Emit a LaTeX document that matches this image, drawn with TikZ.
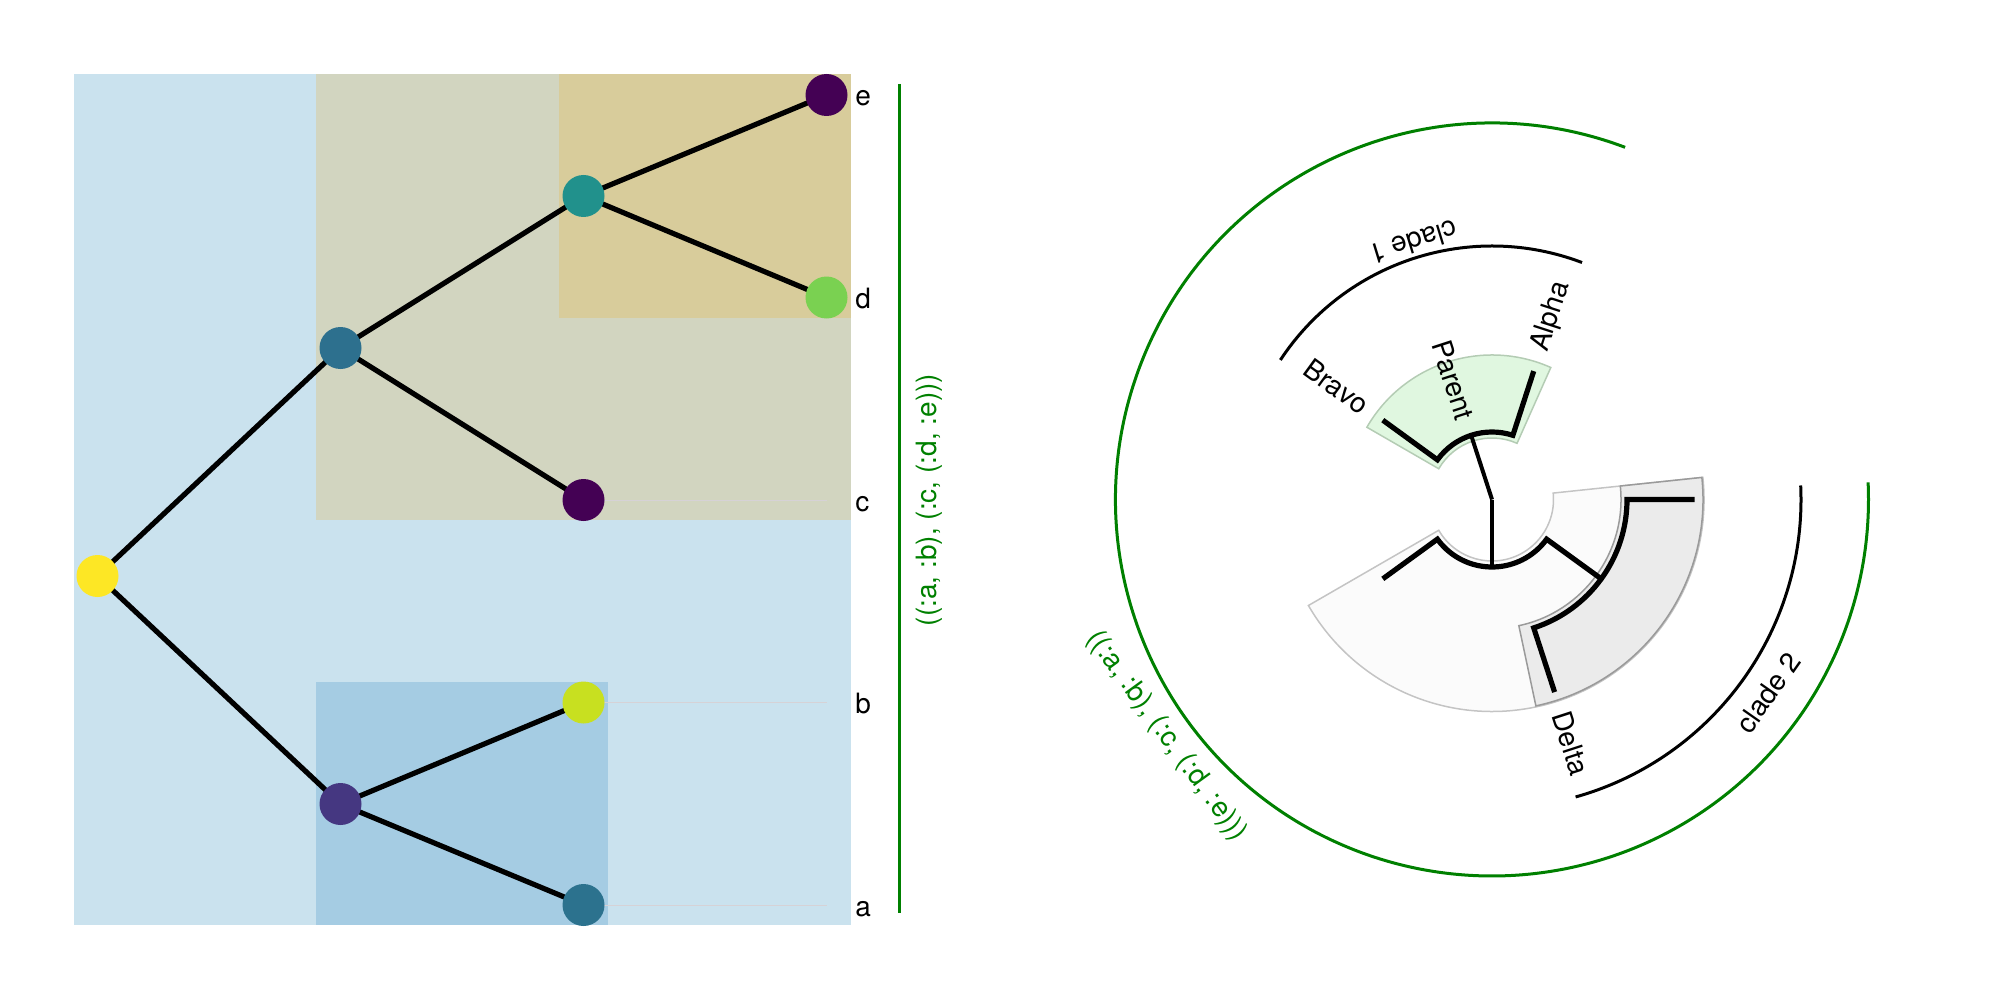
\documentclass[tikz,border=0pt]{standalone}
\usepackage{fontspec}
\setmainfont{TeX Gyre Heros}
\pgfdeclarelayer{bg}
\pgfdeclarelayer{edges}
\pgfsetlayers{bg,edges,main}
\definecolor{bgblue}{HTML}{CAE2EE}
\definecolor{tanA}{HTML}{D2D5C0}
\definecolor{tanB}{HTML}{D8CC9B}
\definecolor{blueB}{HTML}{A5CCE3}
\definecolor{cRoot}{HTML}{FDE725}
\definecolor{cN1}{HTML}{2D708E}
\definecolor{cN2}{HTML}{21918C}
\definecolor{cE}{HTML}{440154}
\definecolor{cD}{HTML}{7AD151}
\definecolor{cC}{HTML}{440154}
\definecolor{cN3}{HTML}{453781}
\definecolor{cB}{HTML}{C8E020}
\definecolor{cA}{HTML}{2C728E}
\definecolor{gr}{HTML}{008000}
\definecolor{wGreen}{HTML}{E0F7E0}
\definecolor{wGreenB}{HTML}{B4CCB4}
\definecolor{wLight}{HTML}{FBFBFB}
\definecolor{wLightB}{HTML}{C4C4C4}
\definecolor{wDark}{HTML}{EBEBEB}
\definecolor{wDarkB}{HTML}{9A9A9A}
\definecolor{leadc}{HTML}{D6D2D6}
\begin{document}
\begin{tikzpicture}[x=0.5pt,y=0.5pt,
  vnode/.style={circle,minimum size=21pt,inner sep=0pt,draw=none},
  treeedge/.style={line width=2.6pt,black},
  leader/.style={line width=0.5pt,leadc},
  lbl/.style={font=\fontsize{14pt}{17pt}\selectfont,inner sep=0pt},
  greenline/.style={line width=1.5pt,gr},
  rtstem/.style={line width=2pt,black},
  rtedge/.style={line width=2.6pt,black},
  cladearc/.style={line width=1.5pt,black},
  wedgeG/.style={fill=wGreen,draw=wGreenB,line width=0.75pt},
  wedgeL/.style={fill=wLight,draw=wLightB,line width=0.75pt},
  wedgeD/.style={fill=wDark,draw=wDarkB,line width=0.75pt}]
\useasboundingbox (0,0) rectangle (2000,-1000);

% ---------------- left panel ----------------
\begin{pgfonlayer}{bg}
\fill[bgblue] (74,-74) rectangle (851,-925);
\fill[tanA] (316,-74) rectangle (851,-520);
\fill[tanB] (559,-74) rectangle (851,-318);
\fill[blueB] (316,-682) rectangle (608,-925);
\end{pgfonlayer}

\node[vnode,fill=cRoot] (r) at (97.5,-576) {};
\node[vnode,fill=cN1] (n1) at (340.5,-348) {};
\node[vnode,fill=cN2] (n2) at (583.5,-196) {};
\node[vnode,fill=cE] (e) at (826.5,-95) {};
\node[vnode,fill=cD] (d) at (826.5,-297.5) {};
\node[vnode,fill=cC] (c) at (583.5,-500) {};
\node[vnode,fill=cN3] (n3) at (340.5,-804) {};
\node[vnode,fill=cB] (b) at (583.5,-702.5) {};
\node[vnode,fill=cA] (a) at (583.5,-905) {};

\coordinate (ec) at (826.5,-500);
\coordinate (eb) at (826.5,-702.5);
\coordinate (ea) at (826.5,-905);

\begin{pgfonlayer}{edges}
\draw[leader] (c.center) -- (ec);
\draw[leader] (b.center) -- (eb);
\draw[leader] (a.center) -- (ea);
\draw[treeedge] (r.center) -- (n1.center);
\draw[treeedge] (r.center) -- (n3.center);
\draw[treeedge] (n1.center) -- (n2.center);
\draw[treeedge] (n1.center) -- (c.center);
\draw[treeedge] (n2.center) -- (e.center);
\draw[treeedge] (n2.center) -- (d.center);
\draw[treeedge] (n3.center) -- (b.center);
\draw[treeedge] (n3.center) -- (a.center);
\end{pgfonlayer}

\node[lbl,anchor=base west] (le) at (855,-106) {e};
\node[lbl,anchor=base west] (ld) at (855,-308.5) {d};
\node[lbl,anchor=base west] (lc) at (855,-511) {c};
\node[lbl,anchor=base west] (lb) at (855,-713.5) {b};
\node[lbl,anchor=base west] (la) at (855,-916) {a};

\coordinate (gtop) at (899.5,-84);
\coordinate (gbot) at (899.5,-913);
\draw[greenline] (gtop) -- (gbot);
\node[lbl,text=gr,rotate=90] (gtxt) at (929,-500) {((:a, :b), (:c, (:d, :e)))};

% ---------------- right panel ----------------
\begin{scope}[shift={(1492,-499.5)}]
\begin{pgfonlayer}{bg}
\path[wedgeL] (210:61.5) arc[start angle=210,end angle=366,radius=61.5] -- (366:212) arc[start angle=366,end angle=210,radius=212] -- cycle;
\path[wedgeD] (282:129) arc[start angle=282,end angle=366,radius=129] -- (366:211) arc[start angle=366,end angle=282,radius=211] -- cycle;
\path[wedgeG] (66:61.5) arc[start angle=66,end angle=150,radius=61.5] -- (150:144.5) arc[start angle=150,end angle=66,radius=144.5] -- cycle;
\end{pgfonlayer}

\coordinate (O) at (0,0);
\coordinate (P) at (108:67.5);
\coordinate (B) at (270:67.5);
\coordinate (Bl) at (216:67.5);
\coordinate (Br) at (324:67.5);
\coordinate (C) at (324:135);
\coordinate (Cl) at (288:135);
\coordinate (Cr) at (360:135);
\coordinate (Pl) at (144:67.5);
\coordinate (Pr) at (72:67.5);
\coordinate (lfAlpha) at (72:135);
\coordinate (lfBravo) at (144:135);
\coordinate (lfC) at (216:135);
\coordinate (lfDelta) at (288:202.5);
\coordinate (lfE) at (360:202.5);

\draw[rtstem] (O) -- (P);
\draw[rtstem] (O) -- (B);
\draw[rtedge] (lfBravo) -- (Pl) arc[start angle=144,end angle=72,radius=67.5] -- (lfAlpha);
\draw[rtedge] (lfC) -- (Bl) arc[start angle=216,end angle=324,radius=67.5] -- (C);
\draw[rtedge] (lfDelta) -- (Cl) arc[start angle=288,end angle=360,radius=135] -- (lfE);

\node[lbl,rotate=72,anchor=west] (alpha) at (72:156) {Alpha};
\node[lbl,rotate=-36,anchor=east] (bravo) at (144:156) {Bravo};
\node[lbl,rotate=-72,anchor=west] (delta) at (288:223) {Delta};
\node[lbl,rotate=-72,anchor=east] (parent) at (108:84.5) {Parent};

\draw[cladearc] (69.2:253.5) arc[start angle=69.2,end angle=146.6,radius=253.5];
\node[lbl,rotate=197] (c1) at (107:268.5) {clade 1};
\draw[cladearc] (-74.3:309) arc[start angle=-74.3,end angle=2.6,radius=309];
\node[lbl,rotate=55] (c2) at (-35:337) {clade 2};
\draw[greenline] (69.3:376.5) arc[start angle=69.3,end angle=362.6,radius=376.5];
\node[lbl,text=gr,rotate=306] (gtxt2) at (216:402.5) {((:a, :b), (:c, (:d, :e)))};
\end{scope}
\end{tikzpicture}
\end{document}
